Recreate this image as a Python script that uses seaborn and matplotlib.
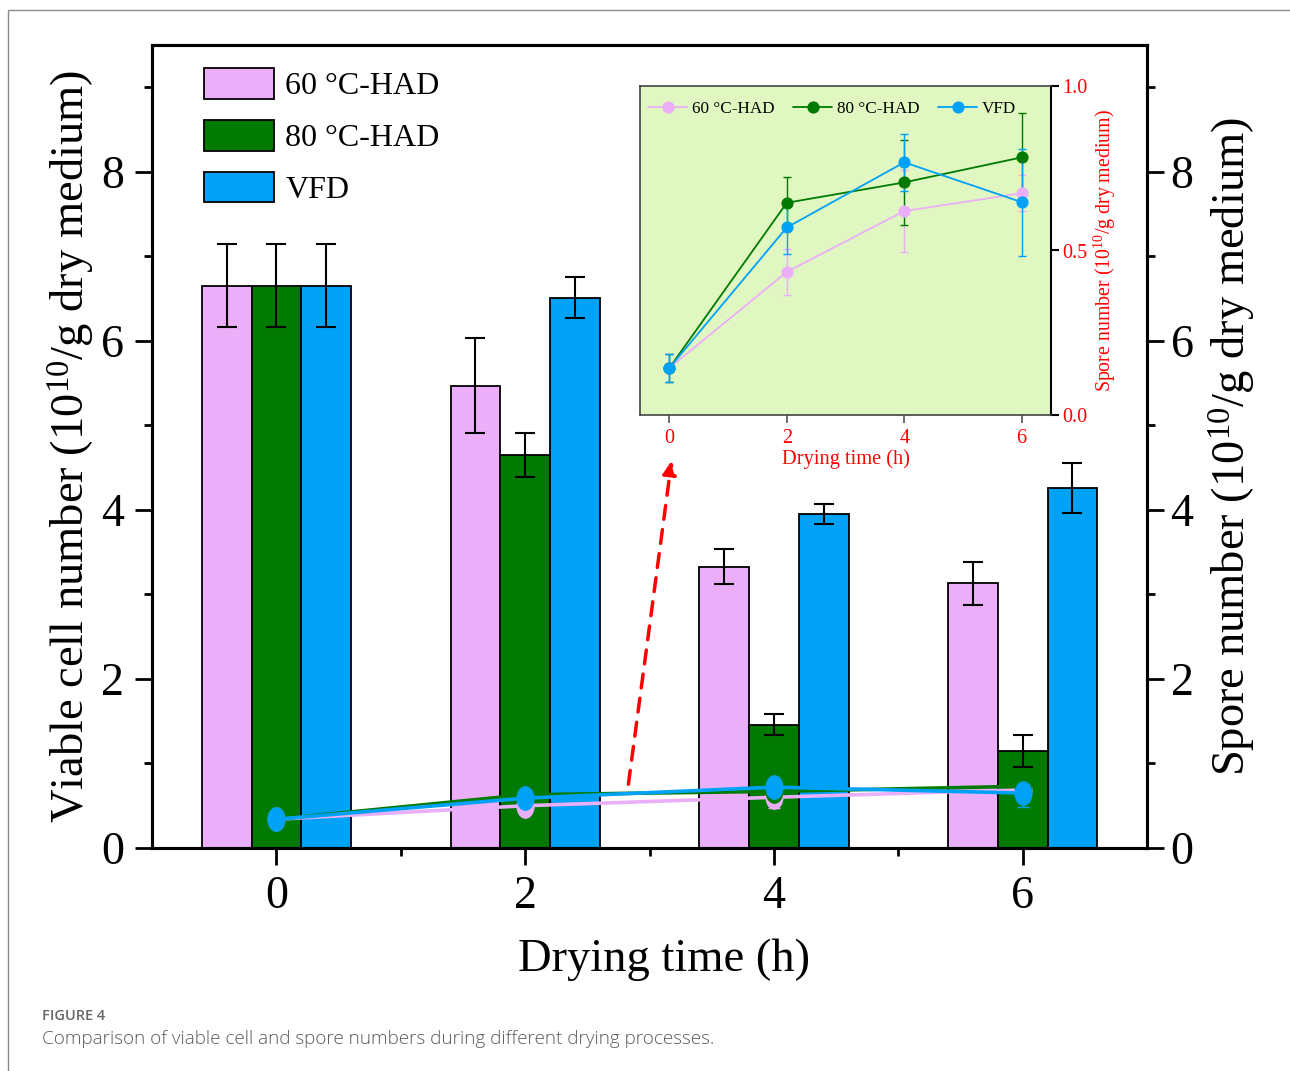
import numpy as np
import pandas as pd
import matplotlib
matplotlib.use("Agg")
import matplotlib.pyplot as plt
import seaborn as sns
from matplotlib.path import Path
from matplotlib.patches import Rectangle

# ---------------- data ----------------
times = [0, 2, 4, 6]
groups = ["60 °C-HAD", "80 °C-HAD", "VFD"]

viable_60 = [6.65, 5.47, 3.33, 3.13]
viable_60_err = [0.49, 0.56, 0.21, 0.25]
viable_80 = [6.65, 4.65, 1.46, 1.15]
viable_80_err = [0.49, 0.26, 0.12, 0.19]
viable_vfd = [6.65, 6.51, 3.95, 4.26]
viable_vfd_err = [0.49, 0.24, 0.12, 0.30]

# spore numbers drawn over the bars (right axis)
spore_main_60 = [0.34, 0.50, 0.60, 0.69]
spore_main_80 = [0.34, 0.63, 0.67, 0.73]
spore_main_vfd = [0.34, 0.59, 0.72, 0.65]

# spore numbers in the inset
spore_60 = [0.143, 0.435, 0.620, 0.674]
spore_60_err = [0.043, 0.070, 0.125, 0.055]
spore_80 = [0.143, 0.645, 0.707, 0.783]
spore_80_err = [0.043, 0.077, 0.130, 0.135]
spore_vfd = [0.143, 0.570, 0.768, 0.647]
spore_vfd_err = [0.043, 0.080, 0.086, 0.163]

colors = {"60 °C-HAD": "#EBAEF9", "80 °C-HAD": "#007A00", "VFD": "#00A2F8"}

# ---------------- style ----------------
sns.set_style("ticks", {"text.color": "black", "axes.labelcolor": "black",
                        "xtick.color": "black", "ytick.color": "black",
                        "axes.edgecolor": "black"})
plt.rcParams["font.family"] = ["Liberation Serif", "DejaVu Serif"]
plt.rcParams["mathtext.fontset"] = "custom"
plt.rcParams["mathtext.rm"] = "Liberation Serif"
plt.rcParams["mathtext.it"] = "Liberation Serif:italic"
plt.rcParams["mathtext.bf"] = "Liberation Serif:bold"

fig = plt.figure(figsize=(12.9, 10.71), dpi=100)

# outer frame of the figure panel
fig.patches.append(Rectangle((8 / 1290, -0.05), 1.2, 1 - 10 / 1071 + 0.05,
                             transform=fig.transFigure, fill=False,
                             edgecolor="#8a8a8a", linewidth=1.0))

ax = fig.add_axes([152 / 1290, 1 - 848 / 1071, (1147 - 152) / 1290, (848 - 45) / 1071])

df = pd.DataFrame({
    "time": times * 3,
    "group": [g for g in groups for _ in times],
    "viable": viable_60 + viable_80 + viable_vfd,
})
errs = {"60 °C-HAD": viable_60_err, "80 °C-HAD": viable_80_err, "VFD": viable_vfd_err}

sns.barplot(data=df, x="time", y="viable", hue="group", hue_order=groups,
            palette=colors, native_scale=True, width=0.6, errorbar=None,
            edgecolor="black", linewidth=1.3, saturation=1, ax=ax)

for cont, g in zip(ax.containers, groups):
    xs = [p.get_x() + p.get_width() / 2 for p in cont.patches]
    ys = [p.get_height() for p in cont.patches]
    ax.errorbar(xs, ys, yerr=errs[g], fmt="none", ecolor="black",
                elinewidth=1.5, capsize=7, capthick=1.5, zorder=5)

ax.set_xlim(-1, 7)
ax.set_ylim(0, 9.5)
ax.set_xticks(times)
ax.set_xticks([1, 3, 5], minor=True)
ax.set_yticks([0, 2, 4, 6, 8])
ax.set_yticks([1, 3, 5, 7, 9], minor=True)
ax.tick_params(axis="both", which="major", length=12, width=2, labelsize=33,
               direction="out", color="black", labelcolor="black")
ax.tick_params(axis="both", which="minor", length=6, width=2, direction="out")
ax.tick_params(axis="y", pad=8)
ax.tick_params(axis="x", pad=8)
for s in ax.spines.values():
    s.set_linewidth(2.2)
    s.set_color("black")
ax.set_xlabel("Drying time (h)", fontsize=33.5)
ax.xaxis.set_label_coords(0.515, -0.139, transform=ax.transAxes)
ax.xaxis.get_label().set_va("center")
ax.set_ylabel("Viable cell number (10$^{10}$/g dry medium)", fontsize=33.5, labelpad=3)

h, l = ax.get_legend_handles_labels()
ax.legend(h, l, loc="upper left", bbox_to_anchor=(0.033, 0.995), frameon=False,
          fontsize=23, handlelength=2.2, handleheight=1.1, labelspacing=0.58,
          handletextpad=0.35, borderaxespad=0.2)

# right axis with spores overlay
ax2 = ax.twinx()
ax2.set_ylim(0, 9.5)
ax2.set_yticks([0, 2, 4, 6, 8])
ax2.set_yticks([1, 3, 5, 7, 9], minor=True)
ax2.tick_params(axis="y", which="major", length=12, width=2, labelsize=33, pad=5,
                color="black", labelcolor="black")
ax2.tick_params(axis="y", which="minor", length=6, width=2)
for s in ax2.spines.values():
    s.set_linewidth(2.2)
    s.set_color("black")
ax2.set_ylabel("Spore number (10$^{10}$/g dry medium)", fontsize=33.5, labelpad=10)

circ = Path.unit_circle()
ellipse = Path(circ.vertices * np.array([0.72, 1.0]), circ.codes)

main_sp = {"60 °C-HAD": spore_main_60, "80 °C-HAD": spore_main_80, "VFD": spore_main_vfd}
sp_err = {"60 °C-HAD": spore_60_err, "80 °C-HAD": spore_80_err, "VFD": spore_vfd_err}
for g in groups:
    ax2.errorbar(times, main_sp[g], yerr=sp_err[g], fmt="none", ecolor=colors[g],
                 elinewidth=1.0, capsize=4, capthick=1.0, zorder=3)
    sns.lineplot(x=times, y=main_sp[g], ax=ax2, color=colors[g], lw=2.6,
                 marker=ellipse, markersize=17, markeredgecolor=colors[g],
                 zorder=4)

# ---------------- inset ----------------
axin = fig.add_axes([640 / 1290, 1 - 415 / 1071, (1051 - 640) / 1290, (415 - 86) / 1071])
axin.set_facecolor("#E1F7C2")
axin.set_zorder(10)
ins = {"60 °C-HAD": (spore_60, spore_60_err),
       "80 °C-HAD": (spore_80, spore_80_err),
       "VFD": (spore_vfd, spore_vfd_err)}
for g in groups:
    v, e = ins[g]
    axin.errorbar(times, v, yerr=e, fmt="none", ecolor=colors[g], elinewidth=1.0,
                  capsize=3, capthick=1.0, zorder=3)
    sns.lineplot(x=times, y=v, ax=axin, color=colors[g], lw=1.3, marker="o",
                 markersize=8, markeredgecolor=colors[g], label=g, zorder=4)
axin.set_xlim(-0.5, 6.5)
axin.set_ylim(0, 1.0)
axin.set_xticks(times)
axin.set_yticks([0.0, 0.5, 1.0])
axin.set_yticklabels(["0.0", "0.5", "1.0"])
axin.yaxis.tick_right()
axin.yaxis.set_label_position("right")
axin.tick_params(axis="x", length=6, width=1.2, colors="#555555",
                 labelcolor="red", labelsize=14.5, pad=4)
axin.tick_params(axis="y", length=6, width=1.5, colors="black",
                 labelcolor="red", labelsize=14.5, pad=2)
for k, s in axin.spines.items():
    s.set_linewidth(1.2)
    s.set_color("#444444")
axin.spines["right"].set_color("black")
axin.spines["right"].set_linewidth(1.5)
axin.set_xlabel("Drying time (h)", color="red", fontsize=14.7, labelpad=1)
axin.set_ylabel("Spore number (10$^{10}$/g dry medium)", color="red",
                fontsize=14.3, labelpad=3)
axin.legend(loc="upper left", bbox_to_anchor=(-0.005, 0.985), ncol=3,
            frameon=False, fontsize=12.3, handlelength=2.3, handletextpad=0.25,
            columnspacing=1.1, borderaxespad=0.2)

# dashed red arrow pointing at the inset
fig.add_artist(matplotlib.patches.FancyArrowPatch(
    (628 / 1290, 1 - 787 / 1071), (672 / 1290, 1 - 458 / 1071),
    transform=fig.transFigure, arrowstyle="-|>", mutation_scale=20,
    color="red", lw=2.5, linestyle=(0, (4, 3)), zorder=20))

# caption
fig.text(42 / 1290, 1 - 1016 / 1071, "FIGURE 4", family=["Open Sans", "DejaVu Sans"],
         fontsize=10.5, color="#666666", weight="semibold", va="center")
fig.text(42 / 1290, 1 - 1039 / 1071,
         "Comparison of viable cell and spore numbers during different drying processes.",
         family=["Open Sans", "DejaVu Sans"], fontsize=13.6, color="#5a5a5a",
         weight="light", va="center")

fig.savefig("out.png", dpi=100)
